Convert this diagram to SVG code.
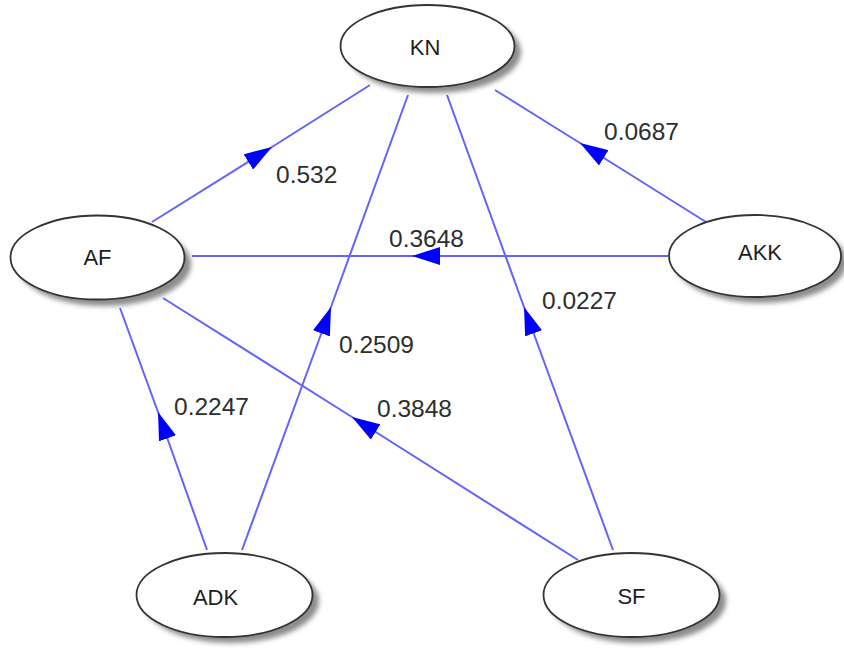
<svg xmlns="http://www.w3.org/2000/svg" width="844" height="650" viewBox="0 0 844 650">
  <defs>
    <marker id="arrow" viewBox="0 0 28 18" refX="28" refY="9" markerWidth="28" markerHeight="18" markerUnits="userSpaceOnUse" orient="auto">
      <path d="M0,0 L28,9 L0,18 Z" fill="#0000ff"/>
    </marker>
    <filter id="soft" x="-20%" y="-20%" width="140%" height="140%">
      <feGaussianBlur stdDeviation="2.5"/>
    </filter>
  </defs>
  <style>
    .edge { fill: none; stroke: #6363ff; stroke-width: 2; marker-mid: url(#arrow); }
    .shadow { fill: #8c8c8c; filter: url(#soft); }
    .node { fill: #ffffff; stroke: #333333; stroke-width: 1.8; }
    .nlabel { font-family: "Liberation Sans", Arial, sans-serif; font-size: 22px; fill: #1e1e1e; text-anchor: middle; }
    .elabel { font-family: "Liberation Sans", Arial, sans-serif; font-size: 24.5px; fill: #2e2e2e; }
  </style>

  <rect width="844" height="650" fill="#ffffff"/>

  <!-- connectors: each polyline carries its arrowhead at the middle vertex -->
  <g id="edges">
    <polyline id="e-af-kn" class="edge" points="152,222 272,147 370,85"/>
    <polyline id="e-akk-kn" class="edge" points="706,222 580,143 495,90"/>
    <polyline id="e-akk-af" class="edge" points="668,256 412,256 192,256"/>
    <polyline id="e-adk-af" class="edge" points="207,550 158,412 120,308"/>
    <polyline id="e-adk-kn" class="edge" points="242,550 331,307 408,95"/>
    <polyline id="e-sf-af" class="edge" points="578,560 352,417 163,298"/>
    <polyline id="e-sf-kn" class="edge" points="613,550 524,307 447,95"/>
  </g>

  <g id="edge-labels">
    <text class="elabel" x="276" y="183">0.532</text>
    <text class="elabel" x="604" y="140">0.0687</text>
    <text class="elabel" x="389" y="247">0.3648</text>
    <text class="elabel" x="174" y="415">0.2247</text>
    <text class="elabel" x="339" y="353">0.2509</text>
    <text class="elabel" x="377" y="417">0.3848</text>
    <text class="elabel" x="542" y="309">0.0227</text>
  </g>

  <g id="KN">
    <ellipse class="shadow" cx="434" cy="52" rx="87" ry="41"/>
    <ellipse class="node" cx="427.5" cy="46" rx="87" ry="41"/>
    <text class="nlabel" x="425" y="55">KN</text>
  </g>

  <g id="AF">
    <ellipse class="shadow" cx="104" cy="264" rx="87" ry="42"/>
    <ellipse class="node" cx="97.5" cy="257.5" rx="87" ry="42"/>
    <text class="nlabel" x="97.5" y="265">AF</text>
  </g>

  <g id="AKK">
    <ellipse class="shadow" cx="761" cy="262" rx="86" ry="41"/>
    <ellipse class="node" cx="755" cy="256" rx="86" ry="41"/>
    <text class="nlabel" x="760" y="260">AKK</text>
  </g>

  <g id="ADK">
    <ellipse class="shadow" cx="231" cy="601" rx="88" ry="42"/>
    <ellipse class="node" cx="224.5" cy="595" rx="88" ry="42"/>
    <text class="nlabel" x="215.5" y="605">ADK</text>
  </g>

  <g id="SF">
    <ellipse class="shadow" cx="638" cy="601" rx="88" ry="42"/>
    <ellipse class="node" cx="631.5" cy="595" rx="88" ry="42"/>
    <text class="nlabel" x="631.5" y="604">SF</text>
  </g>
</svg>
